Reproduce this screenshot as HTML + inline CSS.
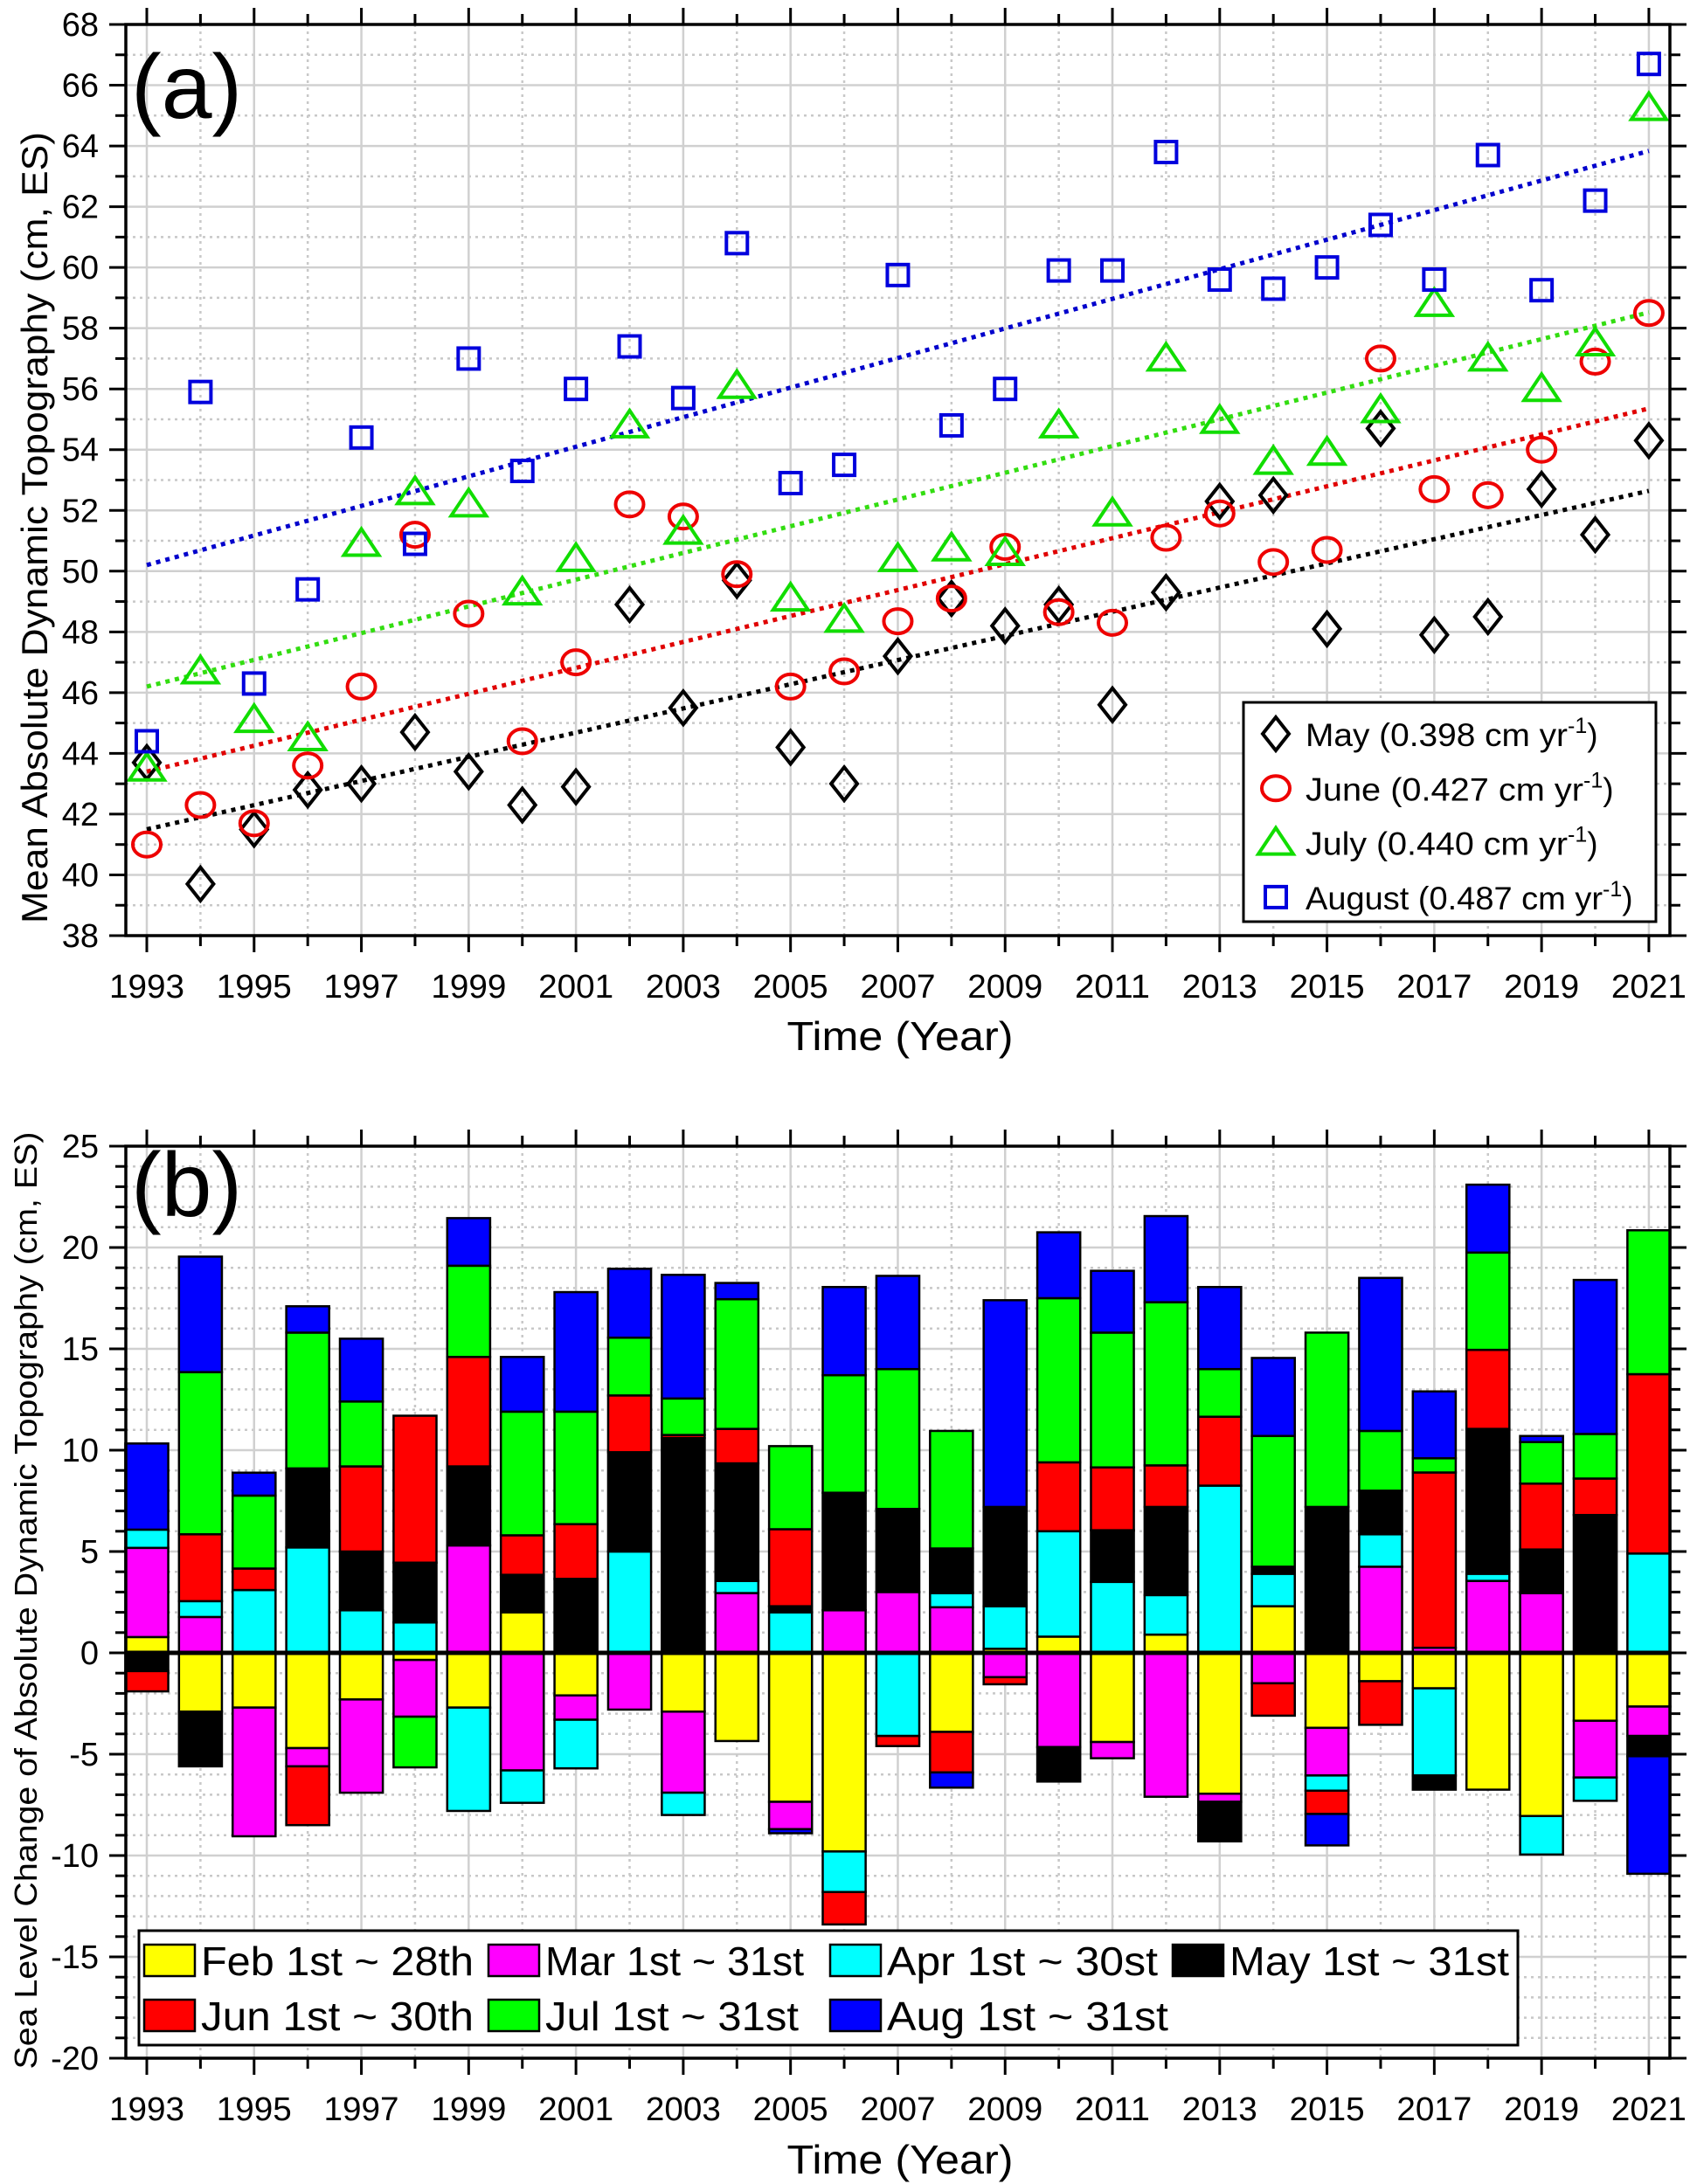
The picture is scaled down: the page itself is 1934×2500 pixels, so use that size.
<!DOCTYPE html>
<html><head><meta charset="utf-8"><style>
html,body{margin:0;padding:0;background:#fff;}
svg{display:block;font-family:"Liberation Sans",Arial,sans-serif;}
</style></head><body>
<svg id="fig" width="1934" height="2500" viewBox="0 0 1934 2500" xmlns="http://www.w3.org/2000/svg">
<g id="pa"></g>
<g id="pb"></g>
</svg>
<script>
// ---------- Panel (a) data ----------
const yearsA = [1993,1994,1995,1996,1997,1998,1999,2000,2001,2002,2003,2004,2005,2006,2007,2008,2009,2010,2011,2012,2013,2014,2015,2016,2017,2018,2019,2020,2021];
const mayVals = [43.7,39.7,41.5,42.8,43.0,44.7,43.4,42.3,42.9,48.9,45.5,49.7,44.2,43.0,47.2,49.1,48.2,48.9,45.6,49.3,52.3,52.5,48.1,54.7,47.9,48.5,52.7,51.2,54.3];
const junVals = [41.0,42.3,41.7,43.6,46.2,51.2,48.6,44.4,47.0,52.2,51.8,49.9,46.2,46.7,48.35,49.1,50.8,48.65,48.3,51.1,51.9,50.3,50.7,57.0,52.7,52.5,54.0,56.9,58.5];
const julVals = [43.5,46.7,45.1,44.5,50.9,52.6,52.2,49.3,50.4,54.8,51.3,56.1,49.1,48.4,50.4,50.75,50.6,54.8,51.9,57.0,54.95,53.6,53.9,55.3,58.8,57.0,56.0,57.5,65.25];
const augVals = [44.4,55.9,46.3,49.4,54.4,50.9,57.0,53.3,56.0,57.4,55.7,60.8,52.9,53.5,59.75,54.8,56.0,59.9,59.9,63.8,59.6,59.3,60.0,61.4,59.6,63.7,59.25,62.2,66.7];
const trendStart = [41.5,43.4,46.2,50.2];
const trendSlope = [0.398,0.427,0.440,0.487];
const seriesNames = ["May","June","July","August"];
const legendLabelsA = ["May (0.398 cm yr","June (0.427 cm yr","July (0.440 cm yr","August (0.487 cm yr"];
const yTicksA = [38,40,42,44,46,48,50,52,54,56,58,60,62,64,66,68];
const xTickLabels = ["1993","1995","1997","1999","2001","2003","2005","2007","2009","2011","2013","2015","2017","2019","2021"];

// ---------- Panel (b) data ----------
const feb = [0.78,-2.9,-2.7,-4.7,-2.3,-0.35,-2.7,2.0,-2.1,0,-2.9,-4.35,-7.35,-9.8,0,-3.9,0.2,0.8,-4.4,0.9,-6.95,2.3,-3.7,-1.4,-1.75,-6.75,-8.05,-3.35,-2.65];
const mar = [4.4,1.77,-6.35,-0.9,-4.6,-2.8,5.3,-5.8,-1.2,-2.8,-4.0,2.95,-1.35,2.1,3.0,2.25,-1.2,-4.65,-0.8,-7.1,-0.4,-1.5,-2.35,4.25,0.25,3.55,2.95,-2.8,-1.45];
const apr = [0.9,0.78,3.1,5.2,2.1,1.5,-5.1,-1.6,-2.4,5.0,-1.1,0.6,2.0,-2.0,-4.1,0.7,2.1,5.2,3.5,1.95,8.25,1.6,-0.75,1.6,-4.3,0.35,-1.9,-1.15,4.9];
const may = [-0.9,-2.7,0,3.9,2.9,2.95,3.9,1.85,3.65,4.9,10.6,5.8,0.3,5.8,4.1,2.2,4.9,-1.7,2.55,4.35,-1.95,0.35,7.2,2.15,-0.7,7.15,2.15,6.8,-1.0];
const jun = [-1.0,3.3,1.06,-2.9,4.2,7.25,5.4,1.95,2.7,2.8,0.15,1.7,3.8,-1.6,-0.5,-2.0,-0.35,3.4,3.1,2.05,3.4,-1.6,-1.15,-2.15,8.65,3.9,3.25,1.8,8.85];
const jul = [0,8.0,3.6,6.7,3.2,-2.5,4.5,6.1,5.55,2.85,1.8,6.4,4.1,5.8,6.9,5.8,0,8.1,6.65,8.05,2.35,6.45,8.6,2.95,0.7,4.8,2.05,2.2,7.1];
const aug = [4.25,5.7,1.13,1.3,3.1,0,2.35,2.7,5.9,3.4,6.1,0.8,-0.2,4.35,4.6,-0.75,10.2,3.25,3.05,4.25,4.05,3.85,-1.55,7.55,3.3,3.35,0.3,7.6,-5.8];
const monthLabels = ["Feb 1st ~ 28th","Mar 1st ~ 31st","Apr 1st ~ 30st","May 1st ~ 31st","Jun 1st ~ 30th","Jul 1st ~ 31st","Aug 1st ~ 31st"];
const yTicksB = [-20,-15,-10,-5,0,5,10,15,20,25];

const NS="http://www.w3.org/2000/svg";
function mk(tag, attrs, parent){const e=document.createElementNS(NS,tag);for(const k in attrs)e.setAttribute(k,attrs[k]);parent.appendChild(e);return e;}
const L=144,R=1911;
const x=yr=>168+(yr-1993)*61.39;
const yA=v=>28+(68-v)*(1043/30);
const yB=v=>1312+(25-v)*23.2;

function axesFrame(g, top, bot, yFn, yMin, yMax, yMajor, yMinor){
  const grid=mk('g',{},g);
  
  
  for(let v=yMin; v<=yMax+1e-9; v+=yMinor){
    const isMaj=Math.abs(v/yMajor-Math.round(v/yMajor))<1e-6;
    if(v===yMin||v===yMax) continue;
    mk('line',{x1:L,x2:R,y1:yFn(v),y2:yFn(v),stroke:isMaj?'#d0d0d0':'#c8c8c8','stroke-width':2.5,'stroke-dasharray':isMaj?'':'3 5'},grid);
  }
  for(let yr=1993; yr<=2021; yr++){
    const isMaj=(yr%2===1);
    mk('line',{x1:x(yr),x2:x(yr),y1:top,y2:bot,stroke:isMaj?'#d0d0d0':'#c8c8c8','stroke-width':2.5,'stroke-dasharray':isMaj?'':'3 5'},grid);
  }
}
function axesBox(g, top, bot, yFn, yMin, yMax, yMajor, yMinor, yTicks){
  const ax=mk('g',{},g);
  
  
  mk('rect',{x:L,y:top,width:R-L,height:bot-top,fill:'none',stroke:'#000','stroke-width':3.5},ax);
  for(let v=yMin; v<=yMax+1e-9; v+=yMinor){
    const isMaj=Math.abs(v/yMajor-Math.round(v/yMajor))<1e-6;
    const len=isMaj?19:12;
    mk('line',{x1:L-len,x2:L,y1:yFn(v),y2:yFn(v),stroke:'#000','stroke-width':3},ax);
    mk('line',{x1:R,x2:R+len,y1:yFn(v),y2:yFn(v),stroke:'#000','stroke-width':3},ax);
  }
  for(let yr=1993; yr<=2021; yr++){
    const len=(yr%2===1)?19:12;
    mk('line',{x1:x(yr),x2:x(yr),y1:bot,y2:bot+len,stroke:'#000','stroke-width':3},ax);
    mk('line',{x1:x(yr),x2:x(yr),y1:top-len,y2:top,stroke:'#000','stroke-width':3},ax);
  }
  yTicks.forEach(v=>{
    const t=mk('text',{x:113,y:yFn(v)+13,'text-anchor':'end','font-size':38},ax);
    t.textContent=String(v);
    
    
  });
  xTickLabels.forEach(s=>{
    const t=mk('text',{x:x(+s),y:bot+71,'text-anchor':'middle','font-size':38,textLength:86,lengthAdjust:'spacingAndGlyphs'},ax);
    t.textContent=s;
    
    
  });
}

// ===== Panel A =====
const pa=document.getElementById('pa');
axesFrame(pa,28,1071,yA,38,68,2,1);
const trendColors=['#000','#e00000','#33dd11','#0000cc'];
const trendG=mk('g',{},pa);


trendStart.forEach((b,i)=>{
  const l=mk('line',{x1:x(1993),y1:yA(b),x2:x(2021),y2:yA(b+trendSlope[i]*28),stroke:trendColors[i],'stroke-width':5,'stroke-dasharray':'5 6'},trendG);
  
  
});
function marker(g,type,cx,cy,col){
  let e;
  if(type===0) e=mk('polygon',{points:`${cx},${cy-19} ${cx+15},${cy} ${cx},${cy+19} ${cx-15},${cy}`,fill:'none',stroke:col,'stroke-width':4},g);
  else if(type===1) e=mk('ellipse',{cx:cx,cy:cy,rx:16,ry:14,fill:'none',stroke:col,'stroke-width':4},g);
  else if(type===2) e=mk('polygon',{points:`${cx},${cy-17} ${cx+20},${cy+13} ${cx-20},${cy+13}`,fill:'none',stroke:col,'stroke-width':4},g);
  else e=mk('rect',{x:cx-12,y:cy-12,width:24,height:24,fill:'none',stroke:col,'stroke-width':4},g);
  return e;
}
const allVals=[mayVals,junVals,julVals,augVals];
const mColors=['#000','#e00','#11dd00','#0000dd'];
allVals.forEach((arr,i)=>{
  const g=mk('g',{},pa);
  
  
  arr.forEach((v,j)=>{
    const e=marker(g,i,x(yearsA[j]),yA(v),mColors[i]);
    
    
  });
});
axesBox(pa,28,1071,yA,38,68,2,1,yTicksA);
const lgA=mk('g',{},pa);


mk('rect',{x:1423,y:804,width:472,height:251,fill:'#fff',stroke:'#000','stroke-width':3},lgA);
const legWA=[300,318,300,340];
legendLabelsA.forEach((s,i)=>{
  const cy=840+i*62.3;
  marker(lgA,i,1460,cy,mColors[i]);
  const t=mk('text',{x:1494,y:cy+14,'font-size':37},lgA);
  
  
  const main=mk('tspan',{textLength:legWA[i],lengthAdjust:'spacingAndGlyphs'},t); main.textContent=s;
  const sup=mk('tspan',{dy:-15,'font-size':25},t); sup.textContent='-1';
  const cl=mk('tspan',{dy:15},t); cl.textContent=')';
});
{
  const t=mk('text',{x:150,y:135,'font-size':104},pa); t.textContent='(a)';
   
  const yl=mk('text',{x:0,y:0,'font-size':42,'text-anchor':'middle',transform:'translate(54,604) rotate(-90)',textLength:906,lengthAdjust:'spacingAndGlyphs'},pa);
  yl.textContent='Mean Absolute Dynamic Topography (cm, ES)';
   
  const xl=mk('text',{x:1030,y:1202,'font-size':46,'text-anchor':'middle',textLength:259,lengthAdjust:'spacingAndGlyphs'},pa);
  xl.textContent='Time (Year)';
   
}

// ===== Panel B =====
const pb=document.getElementById('pb');
axesFrame(pb,1312,2356,yB,-20,25,5,1);
const months=[feb,mar,apr,may,jun,jul,aug];
const mNames=['feb','mar','apr','may','jun','jul','aug'];
const fills=['#ffff00','#ff00ff','#00ffff','#000000','#ff0000','#00ff00','#0000ff'];
const barW=0.8*61.39;
const barsG=mk('g',{},pb);


yearsA.forEach((yr,j)=>{
  let pos=0,neg=0;
  months.forEach((arr,m)=>{
    const v=arr[j]; if(!v) return;
    let a,b;
    if(v>0){a=pos;b=pos+v;pos=b;} else {a=neg;b=neg+v;neg=b;}
    const y1=yB(Math.max(a,b)), y2=yB(Math.min(a,b));
    const r=mk('rect',{x:x(yr)-barW/2,y:y1,width:barW,height:y2-y1,fill:fills[m],stroke:'#000','stroke-width':2.5},barsG);
    
    
  });
});
{
  const z=mk('line',{x1:L,x2:R,y1:yB(0),y2:yB(0),stroke:'#000','stroke-width':5},pb);
   
}
axesBox(pb,1312,2356,yB,-20,25,5,1,yTicksB);
const lgB=mk('g',{},pb);


mk('rect',{x:159,y:2210,width:1578,height:131,fill:'#fff',stroke:'#000','stroke-width':3},lgB);
const colX=[165,559,950,1342];
const txtW=[312,296,310,320,312,290,322];
monthLabels.forEach((s,i)=>{
  const col=i%4,row=Math.floor(i/4);
  const cy=row?2307:2244;
  mk('rect',{x:colX[col],y:cy-18,width:58,height:36,fill:fills[i],stroke:'#000','stroke-width':2.5},lgB);
  const t=mk('text',{x:colX[col]+65,y:cy+17,'font-size':46,textLength:txtW[i],lengthAdjust:'spacingAndGlyphs'},lgB);
  t.textContent=s;
  
  
});
{
  const t=mk('text',{x:150,y:1392,'font-size':104},pb); t.textContent='(b)';
   
  const yl=mk('text',{x:0,y:0,'font-size':36,'text-anchor':'middle',transform:'translate(42,1832) rotate(-90)',textLength:1073,lengthAdjust:'spacingAndGlyphs'},pb);
  yl.textContent='Sea Level Change of Absolute Dynamic Topography (cm, ES)';
   
  const xl=mk('text',{x:1030,y:2488,'font-size':46,'text-anchor':'middle',textLength:259,lengthAdjust:'spacingAndGlyphs'},pb);
  xl.textContent='Time (Year)';
   
}
</script>
</body></html>
